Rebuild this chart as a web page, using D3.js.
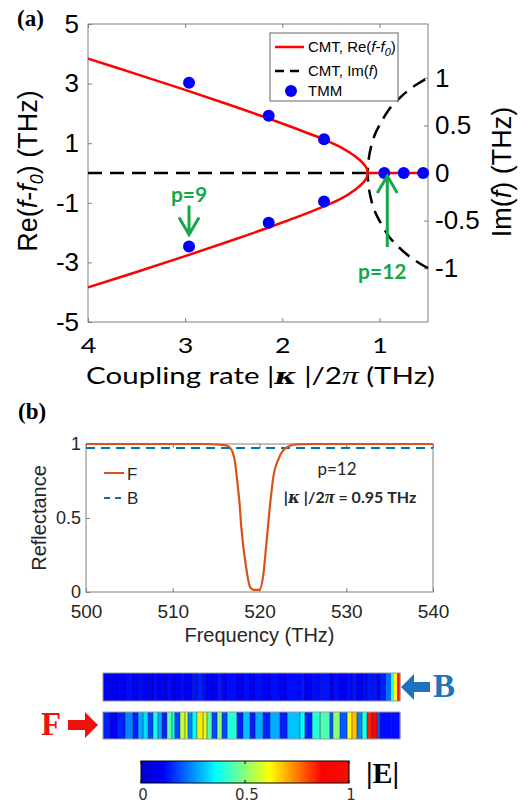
<!DOCTYPE html>
<html>
<head>
<meta charset="utf-8">
<script src="https://cdn.jsdelivr.net/npm/d3@7"></script>
<style>
  body { margin: 0; background: #fff; }
</style>
</head>
<body>
<svg id="fig" width="530" height="807"></svg>
<script>
// ---------------- data ----------------
// (a) CMT eigenfrequencies vs coupling rate |kappa|/2pi (THz)
const reKappa = [4, 3.5, 3, 2.5, 2, 1.6, 1.4, 1.25, 1.17, 1.13, 1.12];
const reUpper = [3.84, 3.32, 2.79, 2.24, 1.66, 1.16, 0.87, 0.56, 0.33, 0.15, 0];
const reLower = [-3.84, -3.32, -2.79, -2.24, -1.66, -1.16, -0.87, -0.56, -0.33, -0.15, 0];
const reFlatKappa = [1.12, 0.5];
const reFlat = [0, 0];
const imKappa = [1.12, 1.11, 1.08, 1.04, 1.0, 0.9, 0.8, 0.7, 0.6, 0.5];
const imUpper = [0, 0.15, 0.30, 0.42, 0.50, 0.67, 0.78, 0.87, 0.94, 1.0];
const imLower = [0, -0.15, -0.30, -0.42, -0.50, -0.67, -0.78, -0.87, -0.94, -1.0];
const imFlatKappa = [4, 1.12];
const imFlat = [0, 0];
// TMM points
const tmmKappa = [2.96, 2.96, 2.14, 2.14, 1.57, 1.57, 0.95, 0.75, 0.55];
const tmmRe = [3.03, -2.47, 1.92, -1.67, 1.13, -0.96, 0, 0, 0];
const kappaTicks = [4, 3, 2, 1];
const reTicks = [5, 3, 1, -1, -3, -5];
const imTicks = [1, 0.5, 0, -0.5, -1];

// (b) reflectance spectra, p = 12
const freqF = [500, 514, 515.4, 516.2, 516.6, 516.9, 517.2, 517.45, 517.7, 517.9, 518.5, 518.9,
               519.3, 520.0, 520.4, 520.8, 521.2, 521.6, 522.2, 522.7, 523.1, 523.6, 524.3, 526, 540];
const reflF = [1, 1, 0.995, 0.99, 0.975, 0.945, 0.87, 0.74, 0.60, 0.44, 0.15, 0.035,
               0.015, 0.015, 0.10, 0.33, 0.58, 0.78, 0.90, 0.955, 0.975, 0.99, 0.997, 1, 1];
const freqB = [500, 540];
const reflB = [0.973, 0.973];
const freqTicks = [500, 510, 520, 530, 540];
const reflTicks = [0, 0.5, 1];

// field profiles |E| along the structure (position in % of length)
const layerEdges = [0, 2.4, 4.7, 7.4, 10.1, 11.8, 13.5, 15.2, 16.8, 18.5, 19.9, 21.5, 23.2,
  24.2, 25.9, 27.6, 28.6, 30.0, 31.6, 33.7, 35.0, 36.7, 38.4, 40.1, 41.8, 45.1, 47.1, 49.5,
  51.2, 53.9, 56.2, 59.6, 62.0, 66.3, 68.0, 70.4, 73.1, 76.4, 77.4, 79.8, 82.2, 83.8, 85.5,
  87.2, 88.9, 90.6, 92.3, 93.3, 95.3, 97.0, 98.0, 99.0, 100];
const fieldB = [0.11, 0.09, 0.11, 0.12, 0.10, 0.12, 0.11, 0.10, 0.12, 0.11, 0.10, 0.12, 0.11,
  0.10, 0.12, 0.11, 0.10, 0.13, 0.14, 0.12, 0.11, 0.10, 0.13, 0.10, 0.12, 0.10, 0.12, 0.10,
  0.12, 0.10, 0.12, 0.10, 0.12, 0.13, 0.10, 0.12, 0.13, 0.10, 0.12, 0.10, 0.12, 0.13, 0.10,
  0.12, 0.13, 0.13, 0.10, 0.14, 0.22, 0.40, 0.62, 0.86];
const fieldF = [0.14, 0.10, 0.14, 0.24, 0.14, 0.28, 0.33, 0.18, 0.38, 0.28, 0.14, 0.46, 0.38,
  0.18, 0.55, 0.60, 0.24, 0.36, 0.64, 0.58, 0.44, 0.18, 0.50, 0.18, 0.40, 0.14, 0.30, 0.14,
  0.28, 0.14, 0.28, 0.14, 0.30, 0.36, 0.14, 0.40, 0.44, 0.20, 0.50, 0.20, 0.62, 0.68, 0.24,
  0.40, 0.84, 0.92, 0.20, 0.12, 0.12, 0.12, 0.12, 0.12];
const cbarTicks = [0, 0.5, 1];
const jetStops = [0, 0.11, 0.36, 0.62, 0.87, 1];
const jetColors = ["#0000c8", "#0000ff", "#00ffff", "#ffff00", "#ff0000", "#f01000"];

// ---------------- setup ----------------
const svg = d3.select("#fig");
svg.append("rect").attr("width", 530).attr("height", 807).attr("fill", "#fff");

const green = "#14a84a";
const sans = "'Liberation Sans', Arial, sans-serif";
const serif = "'Liberation Serif', 'Times New Roman', serif";

function styleAxis(g, size, family, color, lineColor) {
  g.select(".domain").remove();
  g.selectAll(".tick line").attr("stroke", lineColor);
  g.selectAll(".tick text")
    .attr("font-size", size)
    .attr("font-family", family)
    .attr("fill", color);
}

// ================= panel (a) =================
const A = { left: 88, right: 428, top: 24, bottom: 322 };
const x = d3.scaleLinear().domain([4, 0.5]).range([A.left, A.right]);
const yRe = d3.scaleLinear().domain([-5, 5]).range([A.bottom, A.top]);
const yIm = d3.scaleLinear().domain([-1.565, 1.565]).range([A.bottom, A.top]);

const ga = svg.append("g");

ga.append("text").attr("x", 17).attr("y", 26)
  .attr("font-family", serif).attr("font-weight", "bold").attr("font-size", 23)
  .text("(a)");

ga.append("g").attr("transform", `translate(${A.left},0)`)
  .call(d3.axisLeft(yRe).tickValues(reTicks).tickSize(-4).tickPadding(9).tickFormat(d => String(d)))
  .call(styleAxis, 26, sans, "#000", "#808080");

ga.append("g").attr("transform", `translate(${A.right},0)`)
  .call(d3.axisRight(yIm).tickValues(imTicks).tickSize(-4).tickPadding(7).tickFormat(d => String(d)))
  .call(styleAxis, 26, sans, "#000", "#808080");

const bottomAx = ga.append("g").attr("transform", `translate(0,${A.bottom})`)
  .call(d3.axisBottom(x).tickValues(kappaTicks).tickSize(-4).tickPadding(15).tickFormat(d => String(d)))
  .call(styleAxis, 22, "Lato, sans-serif", "#000", "#808080");
bottomAx.selectAll(".tick text").attr("transform", "scale(1.22,1)");

ga.append("g").attr("transform", `translate(0,${A.top})`)
  .call(d3.axisTop(x).tickValues(kappaTicks).tickSize(-4).tickFormat(""))
  .call(styleAxis, 10, sans, "#000", "#808080");

ga.append("rect")
  .attr("x", A.left).attr("y", A.top)
  .attr("width", A.right - A.left).attr("height", A.bottom - A.top)
  .attr("fill", "none").attr("stroke", "#808080");

// curves
const lineRe = d3.line().x(d => x(d[0])).y(d => yRe(d[1])).curve(d3.curveCatmullRom.alpha(0.5));
const lineIm = d3.line().x(d => x(d[0])).y(d => yIm(d[1])).curve(d3.curveCatmullRom.alpha(0.5));

const imPts = imKappa.map((k, i) => [k, imLower[i]]).reverse()
  .concat(imKappa.slice(1).map((k, i) => [k, imUpper[i + 1]]));
const imZero = imFlatKappa.map((k, i) => [k, imFlat[i]]);
const rePts = reKappa.map((k, i) => [k, reLower[i]])
  .concat(reKappa.slice(0, -1).map((k, i) => [k, reUpper[i]]).reverse());
const reZero = reFlatKappa.map((k, i) => [k, reFlat[i]]);

[imZero, imPts].forEach(p => {
  ga.append("path").attr("d", lineIm(p))
    .attr("fill", "none").attr("stroke", "#000").attr("stroke-width", 2.5)
    .attr("stroke-dasharray", "14,8");
});
[rePts, reZero].forEach(p => {
  ga.append("path").attr("d", lineRe(p))
    .attr("fill", "none").attr("stroke", "#ff0000").attr("stroke-width", 2.5);
});

ga.selectAll("circle.tmm")
  .data(tmmKappa.map((k, i) => [k, tmmRe[i]]))
  .enter().append("circle").attr("class", "tmm")
  .attr("cx", d => x(d[0])).attr("cy", d => yRe(d[1])).attr("r", 6)
  .attr("fill", "#0000ff");

// axis labels
ga.append("text")
  .attr("transform", "translate(37,171) rotate(-90)")
  .attr("text-anchor", "middle").attr("font-family", sans).attr("font-size", 27)
  .call(t => {
    t.append("tspan").text("Re(");
    t.append("tspan").attr("font-style", "italic").text("f");
    t.append("tspan").text("-");
    t.append("tspan").attr("font-style", "italic").text("f");
    t.append("tspan").attr("font-style", "italic").attr("font-size", 18).attr("dy", 6).text("0");
    t.append("tspan").attr("dy", -6).text(") (THz)");
  });

ga.append("text")
  .attr("transform", "translate(511,172) rotate(-90)")
  .attr("text-anchor", "middle").attr("font-family", sans).attr("font-size", 27)
  .call(t => {
    t.append("tspan").text("Im(");
    t.append("tspan").attr("font-style", "italic").text("f");
    t.append("tspan").text(") (THz)");
  });

const xlab = ga.append("text")
  .attr("text-anchor", "middle").attr("font-family", "Lato, sans-serif").attr("font-size", 23)
  .call(t => {
    t.append("tspan").text("Coupling rate |");
    t.append("tspan").attr("font-family", "'DejaVu Serif', serif").attr("font-weight", "bold")
      .attr("font-style", "italic").text("κ");
    t.append("tspan").text(" |/2");
    t.append("tspan").attr("font-family", serif).attr("font-style", "italic").attr("font-size", 26).text("π");
    t.append("tspan").text(" (THz)");
  });
const xlabW = xlab.node().getBBox().width;
xlab.attr("transform", `translate(260.5,384) scale(${349 / xlabW},1)`);

// legend (a)
const lg = ga.append("g").attr("transform", "translate(270,33)");
lg.append("rect").attr("width", 128).attr("height", 68)
  .attr("fill", "#fff").attr("stroke", "#666");
lg.append("line").attr("x1", 5).attr("x2", 34).attr("y1", 14).attr("y2", 14)
  .attr("stroke", "#ff0000").attr("stroke-width", 2.5);
lg.append("line").attr("x1", 5).attr("x2", 34).attr("y1", 38).attr("y2", 38)
  .attr("stroke", "#000").attr("stroke-width", 2.5).attr("stroke-dasharray", "9,6");
lg.append("circle").attr("cx", 21).attr("cy", 58).attr("r", 6).attr("fill", "#0000ff");
lg.append("text").attr("x", 38).attr("y", 19).attr("font-family", sans).attr("font-size", 15)
  .call(t => {
    t.append("tspan").text("CMT, Re(");
    t.append("tspan").attr("font-style", "italic").text("f");
    t.append("tspan").text("-");
    t.append("tspan").attr("font-style", "italic").text("f");
    t.append("tspan").attr("font-style", "italic").attr("font-size", 11).attr("dy", 4).text("0");
    t.append("tspan").attr("dy", -4).text(")");
  });
lg.append("text").attr("x", 38).attr("y", 43).attr("font-family", sans).attr("font-size", 15)
  .call(t => {
    t.append("tspan").text("CMT, Im(");
    t.append("tspan").attr("font-style", "italic").text("f");
    t.append("tspan").text(")");
  });
lg.append("text").attr("x", 38).attr("y", 63).attr("font-family", sans).attr("font-size", 15)
  .text("TMM");

// annotations p=9 and p=12
function arrow(g, xc, yTip, len, dir) {
  // dir = 1: pointing down, -1: pointing up
  const tail = yTip - dir * len;
  g.append("path")
    .attr("d", `M${xc},${tail}L${xc},${yTip}M${xc - 10},${yTip - dir * 17}L${xc},${yTip}L${xc + 10},${yTip - dir * 17}`)
    .attr("fill", "none").attr("stroke", green).attr("stroke-width", 3);
}
const p9x = x(tmmKappa[1]), p9y = yRe(tmmRe[1]);
arrow(ga, p9x, p9y - 12, 29, 1);
ga.append("text").attr("x", p9x).attr("y", p9y - 45)
  .attr("text-anchor", "middle").attr("font-family", "Lato, sans-serif").attr("font-weight", "bold")
  .attr("font-size", 21).attr("fill", green).text("p=9");
const p12x = x(tmmKappa[6]) + 3, p12y = yRe(tmmRe[6]);
arrow(ga, p12x, p12y + 3, 71, -1);
ga.append("text").attr("x", p12x - 5).attr("y", p12y + 106)
  .attr("text-anchor", "middle").attr("font-family", "Lato, sans-serif").attr("font-weight", "bold")
  .attr("font-size", 21).attr("fill", green).text("p=12");

// ================= panel (b) =================
const B = { left: 86, right: 433, top: 444, bottom: 592 };
const xf = d3.scaleLinear().domain([500, 540]).range([B.left, B.right]);
const yr = d3.scaleLinear().domain([0, 1]).range([B.bottom, B.top]);
const gb = svg.append("g");

gb.append("text").attr("x", 18).attr("y", 419)
  .attr("font-family", serif).attr("font-weight", "bold").attr("font-size", 23)
  .text("(b)");

gb.append("g").attr("transform", `translate(${B.left},0)`)
  .call(d3.axisLeft(yr).tickValues(reflTicks).tickSize(-4).tickPadding(5).tickFormat(d => String(d)))
  .call(styleAxis, 18, sans, "#262626", "#808080");
gb.append("g").attr("transform", `translate(0,${B.bottom})`)
  .call(d3.axisBottom(xf).tickValues(freqTicks).tickSize(-4).tickPadding(13).tickFormat(d => String(d)))
  .call(styleAxis, 19, sans, "#262626", "#808080");
gb.append("g").attr("transform", `translate(0,${B.top})`)
  .call(d3.axisTop(xf).tickValues(freqTicks).tickSize(-4).tickFormat(""))
  .call(styleAxis, 10, sans, "#000", "#808080");

gb.append("rect")
  .attr("x", B.left).attr("y", B.top)
  .attr("width", B.right - B.left).attr("height", B.bottom - B.top)
  .attr("fill", "none").attr("stroke", "#808080");

const lineF = d3.line().x(d => xf(d[0])).y(d => yr(d[1])).curve(d3.curveMonotoneX);
gb.append("path").attr("d", lineF(freqB.map((f, i) => [f, reflB[i]])))
  .attr("fill", "none").attr("stroke", "#0072bd").attr("stroke-width", 2.2)
  .attr("stroke-dasharray", "9,6");
gb.append("path").attr("d", lineF(freqF.map((f, i) => [f, reflF[i]])))
  .attr("fill", "none").attr("stroke", "#d95319").attr("stroke-width", 2.2);

gb.append("text")
  .attr("transform", "translate(46,518) rotate(-90)")
  .attr("text-anchor", "middle").attr("font-family", sans).attr("font-size", 20)
  .attr("fill", "#262626").text("Reflectance");
gb.append("text").attr("x", (B.left + B.right) / 2).attr("y", 642)
  .attr("text-anchor", "middle").attr("font-family", sans).attr("font-size", 20)
  .attr("fill", "#262626").text("Frequency (THz)");

// legend (b)
gb.append("line").attr("x1", 104).attr("x2", 124).attr("y1", 473).attr("y2", 473)
  .attr("stroke", "#d95319").attr("stroke-width", 2);
gb.append("line").attr("x1", 104).attr("x2", 124).attr("y1", 498).attr("y2", 498)
  .attr("stroke", "#0072bd").attr("stroke-width", 2).attr("stroke-dasharray", "6,5");
gb.append("text").attr("x", 127).attr("y", 480).attr("font-family", sans).attr("font-size", 17)
  .attr("fill", "#262626").text("F");
gb.append("text").attr("x", 127).attr("y", 504).attr("font-family", sans).attr("font-size", 17)
  .attr("fill", "#262626").text("B");

gb.append("text").attr("x", 337).attr("y", 475).attr("text-anchor", "middle")
  .attr("font-family", "Lato, sans-serif").attr("font-size", 17).attr("fill", "#262626")
  .text("p=12");
gb.append("text").attr("x", 350).attr("y", 503).attr("text-anchor", "middle")
  .attr("font-family", "Lato, sans-serif").attr("font-weight", "bold").attr("font-size", 16)
  .attr("fill", "#262626")
  .call(t => {
    t.append("tspan").text("|");
    t.append("tspan").attr("font-family", "'DejaVu Serif', serif").attr("font-style", "italic").text("κ");
    t.append("tspan").text(" |/2");
    t.append("tspan").attr("font-family", serif).attr("font-style", "italic").attr("font-size", 18).text("π");
    t.append("tspan").text(" = 0.95 THz");
  });

// ================= field profiles =================
const jet = d3.scaleLinear().domain(jetStops).range(jetColors).clamp(true);
const xb = d3.scaleLinear().domain([0, 100]).range([103, 400]);
const bars = [
  { name: "B", values: fieldB, y: 673, h: 28 },
  { name: "F", values: fieldF, y: 712, h: 27 }
];
const gf = svg.append("g");
bars.forEach(bar => {
  const g = gf.append("g");
  g.selectAll("rect.layer")
    .data(bar.values)
    .enter().append("rect").attr("class", "layer")
    .attr("x", (d, i) => xb(layerEdges[i]))
    .attr("width", (d, i) => xb(layerEdges[i + 1]) - xb(layerEdges[i]) + 0.3)
    .attr("y", bar.y).attr("height", bar.h)
    .attr("fill", d => jet(d));
  g.selectAll("line.edge")
    .data(layerEdges.slice(1, -5))
    .enter().append("line").attr("class", "edge")
    .attr("x1", d => xb(d)).attr("x2", d => xb(d))
    .attr("y1", bar.y).attr("y2", bar.y + bar.h)
    .attr("stroke", "#000050").attr("stroke-opacity", 0.45).attr("stroke-width", 1);
  g.append("rect").attr("x", xb(0)).attr("y", bar.y)
    .attr("width", xb(100) - xb(0)).attr("height", bar.h)
    .attr("fill", "none").attr("stroke", "#999").attr("stroke-width", 1);
});

// incidence arrows and labels
gf.append("path")
  .attr("d", "M401,687 L414,674 L414,682 L430,682 L430,692 L414,692 L414,700 Z")
  .attr("fill", "#1f72c0");
gf.append("text").attr("x", 433).attr("y", 697)
  .attr("font-family", serif).attr("font-weight", "bold").attr("font-size", 33)
  .attr("fill", "#1f72c0").text("B");
gf.append("path")
  .attr("d", "M98,725 L85,712 L85,720 L68,720 L68,730 L85,730 L85,738 Z")
  .attr("fill", "#f01010");
gf.append("text").attr("x", 41).attr("y", 735)
  .attr("font-family", serif).attr("font-weight", "bold").attr("font-size", 33)
  .attr("fill", "#f01010").text("F");

// colorbar
const cb = d3.scaleLinear().domain([0, 1]).range([141, 349]);
const grad = svg.append("defs").append("linearGradient").attr("id", "jetGrad");
grad.selectAll("stop").data(jetStops).enter().append("stop")
  .attr("offset", d => d * 100 + "%")
  .attr("stop-color", (d, i) => jetColors[i]);
gf.append("rect").attr("x", cb(0)).attr("y", 761)
  .attr("width", cb(1) - cb(0)).attr("height", 22)
  .attr("fill", "url(#jetGrad)").attr("stroke", "#000").attr("stroke-width", 1);
gf.selectAll("line.cbt").data(cbarTicks).enter().append("line").attr("class", "cbt")
  .attr("x1", d => cb(d)).attr("x2", d => cb(d)).attr("y1", 761).attr("y2", 764)
  .attr("stroke", "#000");
gf.selectAll("line.cbb").data(cbarTicks).enter().append("line").attr("class", "cbb")
  .attr("x1", d => cb(d)).attr("x2", d => cb(d)).attr("y1", 780).attr("y2", 783)
  .attr("stroke", "#000");
gf.selectAll("text.cbl").data(cbarTicks).enter().append("text").attr("class", "cbl")
  .attr("x", d => cb(d) + 2).attr("y", 800).attr("text-anchor", "middle")
  .attr("font-family", "'DejaVu Sans', sans-serif").attr("font-size", 15).attr("fill", "#333")
  .text(d => String(d));
gf.append("text").attr("x", 366).attr("y", 783)
  .attr("font-family", serif).attr("font-weight", "bold").attr("font-size", 30)
  .text("|E|");
</script>
</body>
</html>
